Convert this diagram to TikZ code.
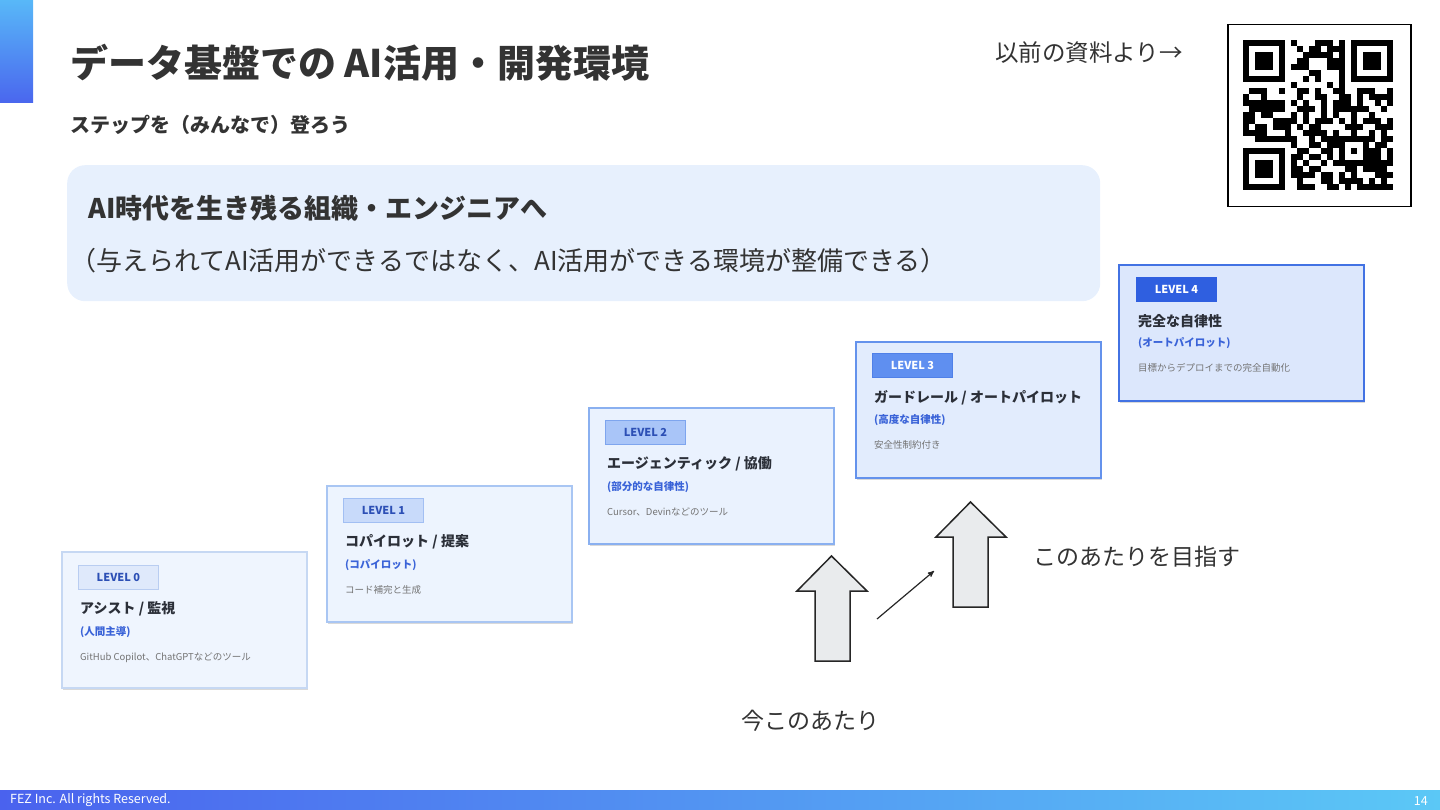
\documentclass[tikz,border=0pt]{standalone}
\usepackage{fontspec}
\setmainfont{Noto Sans CJK JP}
\usepackage{tikz}
\usetikzlibrary{arrows,positioning,shadows}
\definecolor{inkdark}{HTML}{333333}
\definecolor{lvtext}{HTML}{2B2F38}
\definecolor{lvblue}{HTML}{3A63D8}
\definecolor{tagblue}{HTML}{2C4FB5}
\definecolor{msgfill}{HTML}{E7F0FD}
\definecolor{accenttop}{HTML}{58B8F8}
\definecolor{accentbot}{HTML}{4A66EE}
\definecolor{footleft}{HTML}{4A62EE}
\definecolor{footright}{HTML}{5BC8F6}
\definecolor{boxfill0}{HTML}{EFF5FE}
\definecolor{boxfill1}{HTML}{EDF4FE}
\definecolor{boxfill2}{HTML}{EAF2FE}
\definecolor{boxfill3}{HTML}{E2ECFD}
\definecolor{boxfill4}{HTML}{DCE7FC}
\definecolor{boxdraw0}{HTML}{C6D8F3}
\definecolor{boxdraw1}{HTML}{A9C6F3}
\definecolor{boxdraw2}{HTML}{8AB0F0}
\definecolor{boxdraw3}{HTML}{6492EC}
\definecolor{boxdraw4}{HTML}{4272E3}
\definecolor{tagfill0}{HTML}{DFE9FB}
\definecolor{tagfill1}{HTML}{C8DAFA}
\definecolor{tagfill2}{HTML}{A9C5F8}
\definecolor{tagfill3}{HTML}{5F8FF0}
\definecolor{tagfill4}{HTML}{2F5FE0}
\definecolor{tagdraw0}{HTML}{B9CDF1}
\definecolor{tagdraw1}{HTML}{A2BFF3}
\definecolor{tagdraw2}{HTML}{7EA5EE}
\definecolor{tagdraw3}{HTML}{4F80E8}
\definecolor{arrowfill}{HTML}{E9EBED}
\tikzset{
    %Define standard arrow tip
    >=stealth',
    %Define style for the level boxes
    levelbox/.style={
           rectangle,
           line width=1.6pt,
           minimum width=245pt,
           minimum height=136pt,
           anchor=north west,
           drop shadow={shadow xshift=0.8pt, shadow yshift=-2.5pt, opacity=0.3},
           },
    leveltag/.style={
           rectangle,
           line width=0.8pt,
           minimum width=80pt,
           minimum height=24pt,
           inner sep=0pt,
           font=\fontsize{11}{12}\selectfont\bfseries,
           },
    leveltitle/.style={
           inner sep=0pt,
           text=lvtext,
           font=\fontsize{14}{16}\selectfont\bfseries,
           },
    levelsub/.style={
           inner sep=0pt,
           text=lvblue,
           font=\fontsize{10.5}{12}\selectfont\bfseries,
           },
    leveldesc/.style={
           inner sep=0pt,
           text=black!55,
           font=\fontsize{9.5}{11}\selectfont,
           },
    % Define style for the texts round them
    heading/.style={inner sep=0pt, anchor=west, text=inkdark, font=\fontsize{38}{42}\selectfont\bfseries},
    subheading/.style={inner sep=0pt, anchor=west, text=inkdark, font=\fontsize{20}{24}\selectfont\bfseries},
    plaintext/.style={inner sep=0pt, anchor=west, text=inkdark, font=\fontsize{23}{27}\selectfont},
    foottext/.style={inner sep=0pt, text=white, font=\fontsize{12.5}{14}\selectfont},
    % Define arrow style
    bigarrow/.style={
           fill=arrowfill,
           draw=black!85,
           line width=1.5pt,
           line join=miter,
           },
    pil/.style={
           ->,
           line width=1.2pt,
           black!85,}
}
\begin{document}
\begin{tikzpicture}[x=1pt,y=-1pt]
\useasboundingbox (0,0) rectangle (1440,810);
% header
\shade[top color=accenttop, bottom color=accentbot] (0,0) rectangle (33,103);
\node[heading] (title) at (70,63) {データ基盤での AI活用・開発環境};
\node[subheading] (subtitle) at (70,125) {ステップを（みんなで）登ろう};
\node[plaintext, font=\fontsize{23.5}{27}\selectfont] (before) at (995,53) {以前の資料より→};
% qr code
\node[rectangle, draw=black, line width=1.5pt, fill=white, anchor=north west,
      minimum width=183pt, minimum height=182pt] (qr) at (1227,24) {};
\begin{scope}[shift={(1243,40)}]
\pgfmathsetseed{5}
\foreach \r in {0,...,24}{
  \foreach \c in {0,...,24}{
    \pgfmathtruncatemacro{\qon}{(rnd<0.56)*(1-((\r<8)*(\c<8)+(\r<8)*(\c>16)+(\r>16)*(\c<8)))}
    \ifnum\qon=1 \fill (6*\c,6*\r) rectangle ++(6,6); \fi
  }
}
\foreach \fx/\fy in {0/0,18/0,0/18}{
  \fill (6*\fx,6*\fy) rectangle ++(42,42);
  \fill[white] (6*\fx+6,6*\fy+6) rectangle ++(30,30);
  \fill (6*\fx+12,6*\fy+12) rectangle ++(18,18);
}
\fill (96,96) rectangle ++(30,30);
\fill[white] (102,102) rectangle ++(18,18);
\fill (108,108) rectangle ++(6,6);
\end{scope}
% message box
\node[rectangle, rounded corners=18pt, fill=msgfill, anchor=north west,
      minimum width=1033pt, minimum height=136pt] (msg) at (67,165) {};
\node[subheading, font=\fontsize{27}{31}\selectfont\bfseries] (msghead) at (88,208) {AI時代を生き残る組織・エンジニアへ};
\node[plaintext, font=\fontsize{26}{30}\selectfont] (msgbody) at (70,261) {（与えられてAI活用ができるではなく、AI活用ができる環境が整備できる）};
% level 0
\node[levelbox, fill=boxfill0, draw=boxdraw0] (L0) at (61,551) {};
\node[leveltag, fill=tagfill0, draw=tagdraw0, text=tagblue, below right=14pt and 17pt of L0.north west] (tag0) {LEVEL 0};
\node[leveltitle, below right=12pt and 2pt of tag0.south west] (ti0) {アシスト / 監視};
\node[levelsub, below right=10pt and 0pt of ti0.south west] (su0) {(人間主導)};
\node[leveldesc, below right=14pt and 0pt of su0.south west] (de0) {GitHub Copilot、ChatGPTなどのツール};
% level 1
\node[levelbox, fill=boxfill1, draw=boxdraw1] (L1) at (326,485) {};
\node[leveltag, fill=tagfill1, draw=tagdraw1, text=tagblue, below right=13pt and 17pt of L1.north west] (tag1) {LEVEL 1};
\node[leveltitle, below right=12pt and 2pt of tag1.south west] (ti1) {コパイロット / 提案};
\node[levelsub, below right=10pt and 0pt of ti1.south west] (su1) {(コパイロット)};
\node[leveldesc, below right=14pt and 0pt of su1.south west] (de1) {コード補完と生成};
% level 2
\node[levelbox, fill=boxfill2, draw=boxdraw2] (L2) at (588,407) {};
\node[leveltag, fill=tagfill2, draw=tagdraw2, text=tagblue, below right=13pt and 17pt of L2.north west] (tag2) {LEVEL 2};
\node[leveltitle, below right=12pt and 2pt of tag2.south west] (ti2) {エージェンティック / 協働};
\node[levelsub, below right=10pt and 0pt of ti2.south west] (su2) {(部分的な自律性)};
\node[leveldesc, below right=14pt and 0pt of su2.south west] (de2) {Cursor、Devinなどのツール};
% level 3
\node[levelbox, fill=boxfill3, draw=boxdraw3] (L3) at (855,341) {};
\node[leveltag, fill=tagfill3, draw=tagdraw3, text=white, below right=12pt and 17pt of L3.north west] (tag3) {LEVEL 3};
\node[leveltitle, below right=12pt and 2pt of tag3.south west] (ti3) {ガードレール / オートパイロット};
\node[levelsub, below right=10pt and 0pt of ti3.south west] (su3) {(高度な自律性)};
\node[leveldesc, below right=14pt and 0pt of su3.south west] (de3) {安全性制約付き};
% level 4
\node[levelbox, fill=boxfill4, draw=boxdraw4] (L4) at (1118,264) {};
\node[leveltag, fill=tagfill4, draw=tagfill4, text=white, below right=13pt and 18pt of L4.north west] (tag4) {LEVEL 4};
\node[leveltitle, below right=12pt and 2pt of tag4.south west] (ti4) {完全な自律性};
\node[levelsub, below right=10pt and 0pt of ti4.south west] (su4) {(オートパイロット)};
\node[leveldesc, below right=14pt and 0pt of su4.south west] (de4) {目標からデプロイまでの完全自動化};
% arrows
\draw[bigarrow] (831.5,556) -- (867,591) -- (850,591) -- (850,661) -- (815,661) -- (815,591) -- (797,591) -- cycle;
\draw[bigarrow] (970.5,502) -- (1006,537) -- (988,537) -- (988,607) -- (953,607) -- (953,537) -- (936,537) -- cycle;
\coordinate (now) at (877,619);
\coordinate (goal) at (934,571);
\draw[pil] (now) -- (goal);
\node[plaintext] (herenow) at (741,721) {今このあたり};
\node[plaintext] (aimhere) at (1033,557) {このあたりを目指す};
% footer
\shade[left color=footleft, right color=footright] (0,790) rectangle (1440,810);
\node[foottext, anchor=west] (copyright) at (10,800) {FEZ Inc. All rights Reserved.};
\node[foottext, anchor=east] (page) at (1428,801) {14};
\end{tikzpicture}
\end{document}
